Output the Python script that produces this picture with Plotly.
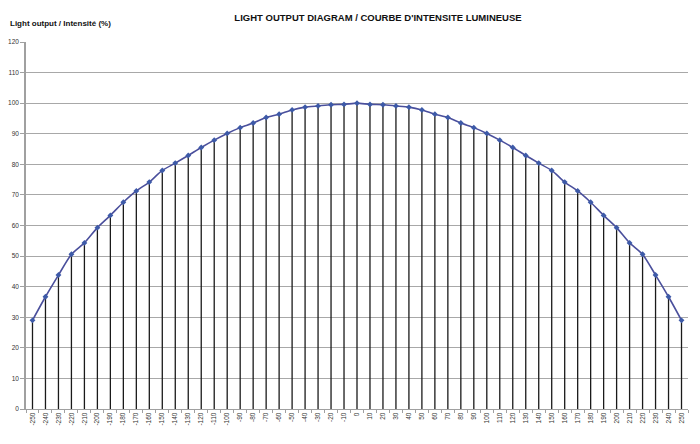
import plotly.graph_objects as go

angles = list(range(-250, 251, 10))
right_half = [100, 99.6, 99.5, 99.1, 98.7, 97.8, 96.4, 95.3, 93.5, 92.0,
              90.1, 87.9, 85.5, 82.9, 80.4, 78.0, 74.2, 71.3, 67.6, 63.3,
              59.3, 54.3, 50.6, 43.8, 36.7, 29.0]
intensity = right_half[::-1] + right_half[1:]
x_labels = [str(a) for a in angles]

title_text = "LIGHT OUTPUT DIAGRAM / COURBE D'INTENSITE LUMINEUSE"
y_title = "Light output / Intensité (%)"

FONT = "Liberation Sans, Arial, sans-serif"

# the page body adds an 8px offset; figure is sized so the plot lands in place
W, H = 692, 436
L, T, R, B = 18, 34, 12, 35
PW, PH = W - L - R, H - T - B

# drop lines from 0 to each value
dx, dy = [], []
for lab, v in zip(x_labels, intensity):
    dx += [lab, lab, None]
    dy += [0, v, None]

fig = go.Figure()
fig.add_trace(go.Scatter(x=dx, y=dy, mode="lines",
                         line=dict(color="#1a1a1a", width=1.3),
                         hoverinfo="skip", showlegend=False))
fig.add_trace(go.Scatter(x=x_labels, y=intensity, mode="lines+markers",
                         line=dict(color="#4a4f9c", width=1.6, shape="spline", smoothing=0.6),
                         marker=dict(symbol="diamond", size=4.5, color="#3d5aa8"),
                         showlegend=False))

fig.update_layout(
    width=W, height=H,
    margin=dict(l=L, r=R, t=T, b=B, autoexpand=False),
    paper_bgcolor="white", plot_bgcolor="white",
    font=dict(family=FONT, size=7, color="#222"),
    title=dict(text="<b>" + title_text + "</b>", x=370 / W, xref="container",
               y=1 - 9.5 / H, yref="container", xanchor="center", yanchor="middle",
               automargin=False,
               font=dict(family=FONT, size=9.5, color="#111")),
    annotations=[dict(text="<b>" + y_title + "</b>", xref="paper", yref="paper",
                      x=(0 - L) / PW, y=(H - B - 15) / PH, xanchor="left", yanchor="middle",
                      showarrow=False, font=dict(family=FONT, size=8, color="#111"))],
)
fig.update_xaxes(type="category", categoryorder="array", categoryarray=x_labels,
                 range=[-0.5, len(x_labels) - 0.5], automargin=False,
                 tickangle=-90, tickfont=dict(size=6.5, color="#333"),
                 showgrid=False, showline=True, linecolor="#a0a0a0", linewidth=1,
                 ticks="outside", ticklen=3, tickcolor="#a0a0a0", tickson="boundaries",
                 zeroline=False)
fig.update_yaxes(range=[0, 120], dtick=10, tickfont=dict(size=6.5, color="#333"),
                 automargin=False,
                 showgrid=True, gridcolor="#a8a8a8", gridwidth=1,
                 showline=True, linecolor="#a0a0a0", linewidth=1.5,
                 ticks="outside", ticklen=4, tickcolor="#a0a0a0",
                 zeroline=False)

fig.write_html("out.html")
